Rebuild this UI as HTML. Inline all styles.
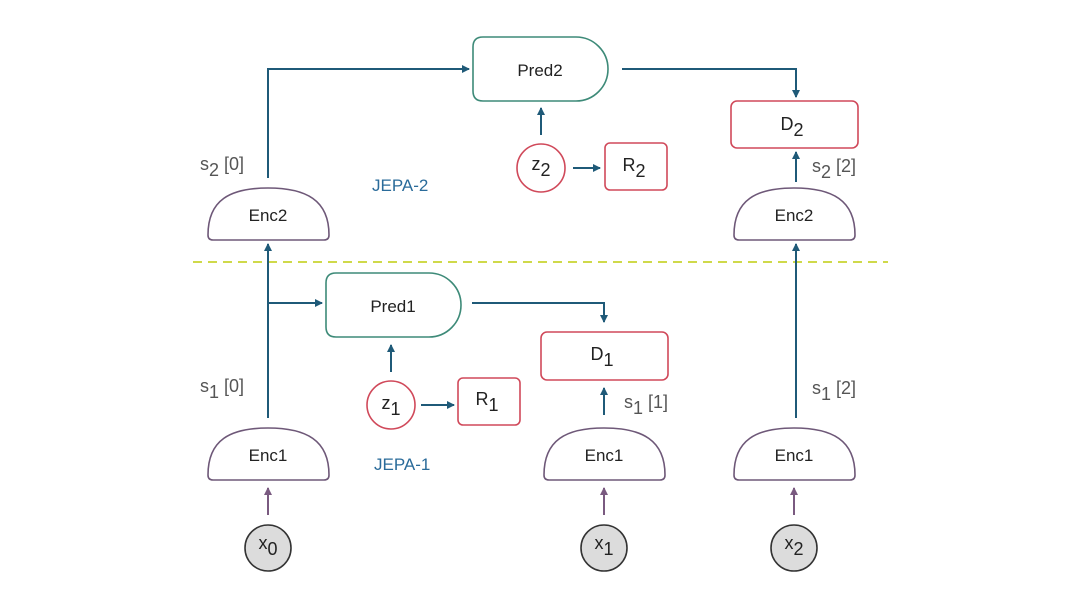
<!DOCTYPE html>
<html><head><meta charset="utf-8"><style>
html,body{margin:0;padding:0;background:#fff;width:1080px;height:608px;overflow:hidden}
svg{display:block}
text{font-family:"Liberation Sans",sans-serif;font-size:17px;fill:#222}
</style></head><body>
<svg width="1080" height="608" viewBox="0 0 1080 608" xmlns="http://www.w3.org/2000/svg">
<defs>
<marker id="a" markerWidth="8" markerHeight="8" refX="7" refY="4" orient="auto" markerUnits="userSpaceOnUse"><path d="M0,0 L8,4 L0,8 Z" fill="#1f5a78"/></marker>
<marker id="p" markerWidth="8" markerHeight="8" refX="7" refY="4" orient="auto" markerUnits="userSpaceOnUse"><path d="M0,0 L8,4 L0,8 Z" fill="#7a5a80"/></marker>
</defs>
<rect width="1080" height="608" fill="#fff"/>
<line x1="193" y1="262" x2="888" y2="262" stroke="#cfd94a" stroke-width="2" stroke-dasharray="9,6"/>
<g fill="#fff" stroke="#6e5878" stroke-width="1.6">
<path d="M208,235 C208,200 230,188 268,188 C306,188 329,200 329,235 Q329,240 324,240 L213,240 Q208,240 208,235 Z"/>
<path d="M734,235 C734,200 756,188 794,188 C832,188 855,200 855,235 Q855,240 850,240 L739,240 Q734,240 734,235 Z"/>
<path d="M208,475 C208,440 230,428 268,428 C306,428 329,440 329,475 Q329,480 324,480 L213,480 Q208,480 208,475 Z"/>
<path d="M544,475 C544,440 566,428 604,428 C642,428 665,440 665,475 Q665,480 660,480 L549,480 Q544,480 544,475 Z"/>
<path d="M734,475 C734,440 756,428 794,428 C832,428 855,440 855,475 Q855,480 850,480 L739,480 Q734,480 734,475 Z"/>
</g>
<g fill="#fff" stroke="#3d8a78" stroke-width="1.6">
<path d="M483,37 L576,37 A32,32 0 0 1 576,101 L483,101 Q473,101 473,91 L473,47 Q473,37 483,37 Z"/>
<path d="M336,273 L429,273 A32,32 0 0 1 429,337 L336,337 Q326,337 326,327 L326,283 Q326,273 336,273 Z"/>
</g>
<g fill="#fff" stroke="#d0495a" stroke-width="1.6">
<rect x="731" y="101" width="127" height="47" rx="6"/>
<rect x="541" y="332" width="127" height="48" rx="6"/>
<rect x="605" y="143" width="62" height="47" rx="5"/>
<rect x="458" y="378" width="62" height="47" rx="5"/>
<circle cx="541" cy="168" r="24"/>
<circle cx="391" cy="405" r="24"/>
</g>
<g fill="#dcdcdc" stroke="#333" stroke-width="1.6">
<circle cx="268" cy="548" r="23"/><circle cx="604" cy="548" r="23"/><circle cx="794" cy="548" r="23"/>
</g>
<g stroke="#1f5a78" stroke-width="2" fill="none">
<path d="M268,418 L268,244" marker-end="url(#a)"/>
<path d="M268,303 L322,303" marker-end="url(#a)"/>
<path d="M268,178 L268,69 L469,69" marker-end="url(#a)"/>
<path d="M622,69 L796,69 L796,97" marker-end="url(#a)"/>
<path d="M541,135 L541,108" marker-end="url(#a)"/>
<path d="M573,168 L600,168" marker-end="url(#a)"/>
<path d="M796,182 L796,152" marker-end="url(#a)"/>
<path d="M796,418 L796,244" marker-end="url(#a)"/>
<path d="M472,303 L604,303 L604,322" marker-end="url(#a)"/>
<path d="M391,372 L391,345" marker-end="url(#a)"/>
<path d="M421,405 L454,405" marker-end="url(#a)"/>
<path d="M604,415 L604,388" marker-end="url(#a)"/>
</g>
<g stroke="#7a5a80" stroke-width="2">
<path d="M268,515 L268,488" marker-end="url(#p)"/>
<path d="M604,515 L604,488" marker-end="url(#p)"/>
<path d="M794,515 L794,488" marker-end="url(#p)"/>
</g>
<g text-anchor="middle">
<text x="268" y="221">Enc2</text><text x="794" y="221">Enc2</text>
<text x="268" y="461">Enc1</text><text x="604" y="461">Enc1</text><text x="794" y="461">Enc1</text>
<text x="540" y="76">Pred2</text><text x="393" y="312">Pred1</text>
<text x="792" y="130" style="font-size:18px">D<tspan dy="6">2</tspan></text>
<text x="602" y="360" style="font-size:18px">D<tspan dy="6">1</tspan></text>
<text x="634" y="171" style="font-size:18px">R<tspan dy="6">2</tspan></text>
<text x="487" y="405" style="font-size:18px">R<tspan dy="6">1</tspan></text>
<text x="541" y="170" style="font-size:18px">z<tspan dy="6">2</tspan></text>
<text x="391" y="409" style="font-size:18px">z<tspan dy="6">1</tspan></text>
<text x="268" y="549" style="font-size:18px">x<tspan dy="6">0</tspan></text>
<text x="604" y="549" style="font-size:18px">x<tspan dy="6">1</tspan></text>
<text x="794" y="549" style="font-size:18px">x<tspan dy="6">2</tspan></text>
</g>
<text x="200" y="170" style="fill:#555;font-size:18px">s<tspan dy="6">2</tspan><tspan dy="-6"> [0]</tspan></text>
<text x="200" y="392" style="fill:#555;font-size:18px">s<tspan dy="6">1</tspan><tspan dy="-6"> [0]</tspan></text>
<text x="624" y="408" style="fill:#555;font-size:18px">s<tspan dy="6">1</tspan><tspan dy="-6"> [1]</tspan></text>
<text x="812" y="394" style="fill:#555;font-size:18px">s<tspan dy="6">1</tspan><tspan dy="-6"> [2]</tspan></text>
<text x="812" y="172" style="fill:#555;font-size:18px">s<tspan dy="6">2</tspan><tspan dy="-6"> [2]</tspan></text>
<text x="372" y="191" style="fill:#2a6b9a">JEPA-2</text>
<text x="374" y="470" style="fill:#2a6b9a">JEPA-1</text>
</svg>
</body></html>
